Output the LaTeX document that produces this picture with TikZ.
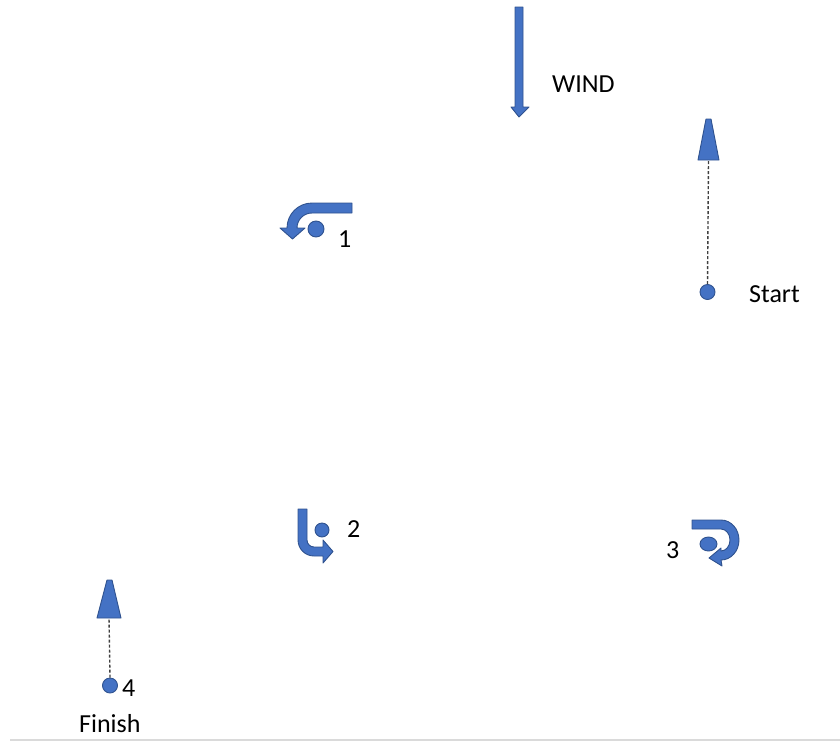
\documentclass[tikz,border=0pt]{standalone}
\usepackage{fontspec}
\setmainfont{Carlito}
\usetikzlibrary{shapes.geometric}
\definecolor{abl}{HTML}{4472C4}
\definecolor{abd}{HTML}{2F528F}
\definecolor{dgr}{HTML}{404040}
\definecolor{lgr}{HTML}{DADADA}
\tikzset{
  shp/.style={fill=abl,draw=abd,line width=0.9pt,line join=round},
  dotn/.style={circle,fill=abl,draw=abd,line width=0.9pt,inner sep=0pt},
  lbl/.style={anchor=base west,inner sep=0pt,font=\fontsize{26}{31}\selectfont},
  trail/.style={draw=dgr,line width=1.4pt,dash pattern=on 3pt off 2pt}
}
\begin{document}
\begin{tikzpicture}[x=1pt,y=-1pt]
\useasboundingbox (0,0) rectangle (840,742);
% bottom rule
\draw[lgr,line width=1.2pt] (10,740) -- (840,740);
% wind arrow
\draw[shp] (515,7) -- (523,7) -- (523,107) -- (529,107) -- (519,117) -- (511,107) -- (515,107) -- cycle;
\node[lbl] (wind) at (552,92) {WIND};
% start
\draw[shp] (706,119) -- (711,119) -- (719,160) -- (698,160) -- cycle;
\coordinate (sbase) at (708.5,160);
\node[dotn,minimum size=15pt] (sdot) at (707.5,292) {};
\draw[trail] (sdot.north) -- (sbase);
\node[lbl] (start) at (749,302) {Start};
% mark 1
\draw[shp] (352,203) -- (312,203) arc[start angle=-90,end angle=-180,radius=25]
  -- (280,228) -- (292.5,239) -- (305,228) -- (297,228)
  arc[start angle=180,end angle=270,radius=15] -- (352,213) -- cycle;
\node[dotn,minimum size=16pt] (d1) at (316,229) {};
\node[lbl] (l1) at (338,247) {1};
% mark 2
\draw[shp] (298,509) -- (298,540) arc[start angle=180,end angle=90,radius=16]
  -- (323,556) -- (323,563) -- (333,551.5) -- (323,540) -- (323,547) -- (314,547)
  arc[start angle=90,end angle=180,radius=7] -- (307,509) -- cycle;
\node[dotn,minimum size=14pt] (d2) at (322,530) {};
\node[lbl] (l2) at (347,537) {2};
% mark 3
\draw[shp] (692,520) -- (721,520) arc[start angle=-90,end angle=90,x radius=18,y radius=20]
  -- (722,566) -- (709,558) -- (721,548) -- (721,551)
  arc[start angle=90,end angle=-90,x radius=9,y radius=11] -- (692,529) -- cycle;
\node[dotn,ellipse,minimum width=17pt,minimum height=14pt] (d3) at (708.5,544) {};
\node[lbl] (l3) at (666,558) {3};
% finish
\draw[shp] (107,580) -- (112,580) -- (121,618) -- (97,618) -- cycle;
\coordinate (fbase) at (109,618);
\node[dotn,minimum size=15pt] (fdot) at (110,685.5) {};
\draw[trail] (fdot.north) -- (fbase);
\node[lbl] (l4) at (122,696) {4};
\node[lbl] (finish) at (79,732) {Finish};
\end{tikzpicture}
\end{document}
